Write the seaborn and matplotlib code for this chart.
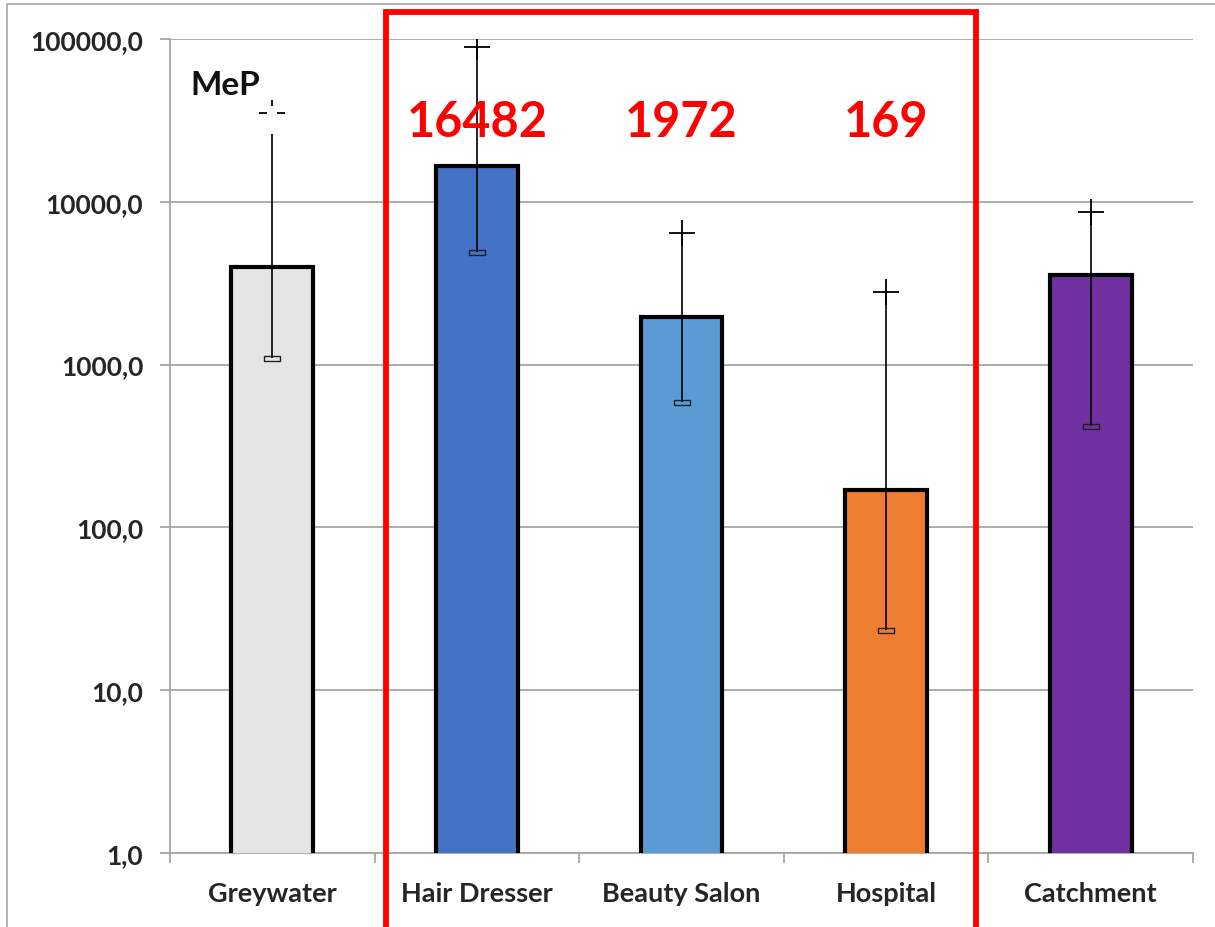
import numpy as np
import pandas as pd
import matplotlib
matplotlib.use('Agg')
import matplotlib.pyplot as plt
from matplotlib.path import Path
from matplotlib.patches import Rectangle
from matplotlib.ticker import FixedLocator, FuncFormatter, NullLocator
import seaborn as sns

# data
categories = ['Greywater', 'Hair Dresser', 'Beauty Salon', 'Hospital', 'Catchment']
values = [3960, 16482, 1972, 169, 3550]
err_low = [1100, 4900, 590, 23.5, 420]
err_cap = [35000, 89000, 6400, 2800, 8700]
whisker_top = [26000, 89000, 6400, 2800, 8700]
bar_colors = ['#E5E5E5', '#4472C4', '#5B9BD5', '#ED7D31', '#7030A0']
highlight = ['Hair Dresser', 'Beauty Salon', 'Hospital']
y_ticks = [1, 10, 100, 1000, 10000, 100000]

df = pd.DataFrame({'category': categories, 'value': values})

sns.set_theme(style='white')
plt.rcParams['font.family'] = ['Lato', 'DejaVu Sans']

grid_col = '#A6A6A6'
fig = plt.figure(figsize=(12.15, 9.28), dpi=100)
ax = fig.add_axes([170 / 1215, 74 / 928, 1023 / 1215, 814 / 928])

sns.barplot(data=df, x='category', y='value', hue='category', palette=bar_colors,
            saturation=1, legend=False, width=0.4, edgecolor='black', linewidth=3.0,
            ax=ax, zorder=3)
ax.set_yscale('log')

ax.set_ylim(1, 100000)
ax.set_xlim(-0.5, len(categories) - 0.5)
ax.yaxis.set_major_locator(FixedLocator(y_ticks))
ax.yaxis.set_minor_locator(NullLocator())
ax.yaxis.set_major_formatter(FuncFormatter(lambda v, p: f'{v:.1f}'.replace('.', ',')))
ax.grid(axis='y', color=grid_col, linewidth=1.3, zorder=0)
ax.set_axisbelow(True)

# error bars
xs = np.arange(len(categories))
ax.vlines(xs, err_low, whisker_top, color='black', linewidth=1.2, zorder=4)
low_marker = [(-2, -0.6), (2, -0.6), (2, 0.6), (-2, 0.6), (-2, -0.6)]
ax.plot(xs, err_low, linestyle='none', marker=low_marker, markersize=12,
        markerfacecolor='none', markeredgecolor='#222222', markeredgewidth=1.0, zorder=5)
for i in range(len(categories)):
    if whisker_top[i] < err_cap[i]:
        cap_path = Path([(-1, 0), (-0.35, 0), (0.35, 0), (1, 0), (0, 0.5), (0, 1)],
                        [Path.MOVETO, Path.LINETO, Path.MOVETO, Path.LINETO, Path.MOVETO, Path.LINETO])
        ax.plot(xs[i], err_cap[i], marker=cap_path, markersize=19, linestyle='none',
                markeredgecolor='black', markeredgewidth=1.3, zorder=5)
    else:
        ax.plot(xs[i], err_cap[i], marker='+', markersize=19, linestyle='none',
                markeredgecolor='black', markeredgewidth=1.3, zorder=5)

# spines and ticks
for side in ['top', 'right']:
    ax.spines[side].set_visible(False)
for side in ['left', 'bottom']:
    ax.spines[side].set_color(grid_col)
    ax.spines[side].set_linewidth(1.3)
ax.tick_params(axis='y', which='major', length=7.2, width=1.3, color=grid_col,
               pad=12, labelsize=19, left=True)
for lab in ax.get_yticklabels():
    lab.set_fontweight('bold')
ax.xaxis.set_minor_locator(FixedLocator(np.arange(-0.5, len(categories), 1.0)))
ax.tick_params(axis='x', which='major', length=0, pad=20, labelsize=19.5)
ax.tick_params(axis='x', which='minor', length=7.2, width=1.3, color=grid_col, bottom=True)
for lab in ax.get_xticklabels():
    lab.set_fontweight('bold')
ax.set_xlabel('')
ax.set_ylabel('')

ax.text(0.02, 0.944, 'MeP', transform=ax.transAxes, fontsize=24, fontweight='bold',
        ha='left', va='center', color='#111111')

# highlighted values in red
for cat in highlight:
    i = categories.index(cat)
    ax.text(xs[i], 0.899, f'{values[i]:.0f}', transform=ax.get_xaxis_transform(),
            fontsize=35, fontweight='bold', color='#FF0000', ha='center', va='center', zorder=6)

# outer chart border and red highlight frame
fig.patches.append(Rectangle((7 / 1215, -0.05), 1.2, 1.05 - 5 / 928,
                             transform=fig.transFigure, fill=False,
                             edgecolor=grid_col, linewidth=1.2))
fig.patches.append(Rectangle((385.5 / 1215, -0.05), 590 / 1215, (928 - 13) / 928 + 0.05,
                             transform=fig.transFigure, fill=False,
                             edgecolor='#FF0000', linewidth=4.2, zorder=10))

fig.savefig('out.png', dpi=100)
